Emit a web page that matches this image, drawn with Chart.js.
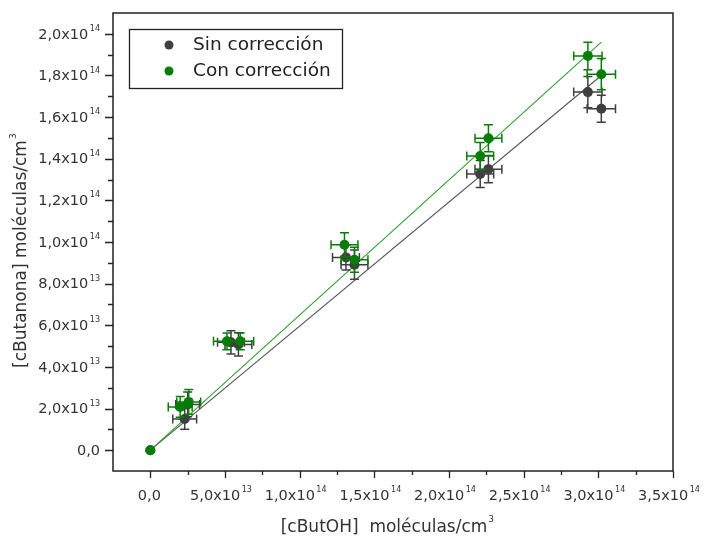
<!DOCTYPE html>
<html>
<head>
<meta charset="utf-8">
<script src="https://cdn.jsdelivr.net/npm/chart.js@4.4.1/dist/chart.umd.min.js"></script>
<style>
  html, body { margin: 0; padding: 0; background: #ffffff; }
  canvas { display: block; }
</style>
</head>
<body>
<canvas id="chart" width="706" height="539"></canvas>
<script>
// Axis ticks (molecules/cm3)
const xTicks = [0, 5e13, 1e14, 1.5e14, 2e14, 2.5e14, 3e14, 3.5e14];
const xMinorTicks = [2.5e13, 7.5e13, 1.25e14, 1.75e14, 2.25e14, 2.75e14, 3.25e14];
const yTicks = [0, 2e13, 4e13, 6e13, 8e13, 1e14, 1.2e14, 1.4e14, 1.6e14, 1.8e14, 2e14];
const yMinorTicks = [1e13, 3e13, 5e13, 7e13, 9e13, 1.1e14, 1.3e14, 1.5e14, 1.7e14, 1.9e14];

// Series: "Sin corrección"
const sinX    = [0, 2.3e13, 2.5e13, 5.4e13, 5.9e13, 1.31e14, 1.367e14, 2.209e14, 2.264e14, 2.93e14, 3.02e14];
const sinY    = [0, 1.5e13, 2.2e13, 5.18e13, 5.08e13, 9.26e13, 8.91e13, 1.327e14, 1.35e14, 1.72e14, 1.64e14];
const sinXErr = [0, 0.8e13, 0.8e13, 0.9e13, 0.9e13, 0.9e13, 0.9e13, 0.9e13, 0.9e13, 0.95e13, 0.95e13];
const sinYErr = [0, 0.5e13, 0.6e13, 0.56e13, 0.56e13, 0.6e13, 0.7e13, 0.65e13, 0.65e13, 0.75e13, 0.65e13];

// Series: "Con corrección"
const conX    = [0, 2.0e13, 2.57e13, 5.13e13, 6.02e13, 1.30e14, 1.367e14, 2.209e14, 2.264e14, 2.93e14, 3.02e14];
const conY    = [0, 2.08e13, 2.32e13, 5.23e13, 5.23e13, 9.87e13, 9.15e13, 1.413e14, 1.498e14, 1.894e14, 1.806e14];
const conXErr = [0, 0.8e13, 0.8e13, 0.9e13, 0.9e13, 0.9e13, 0.9e13, 0.9e13, 0.9e13, 0.95e13, 0.95e13];
const conYErr = [0, 0.5e13, 0.6e13, 0.4e13, 0.4e13, 0.58e13, 0.6e13, 0.65e13, 0.65e13, 0.66e13, 0.75e13];

// Linear fits (end points)
const sinFitX = [0, 3.02e14];
const sinFitY = [0, 1.80e14];
const conFitX = [0, 3.02e14];
const conFitY = [0, 1.96e14];

const GRAY = '#3f3f3f';
const GREEN = '#067d06';
const FONT = '"DejaVu Sans", sans-serif';

const toPoints = (xs, ys) => xs.map((x, i) => ({ x: x, y: ys[i] }));

function sciParts(v) {
  if (v === 0) return ['0,0', ''];
  const e = Math.floor(Math.log10(Math.abs(v)) + 1e-9);
  const m = v / Math.pow(10, e);
  return [m.toFixed(1).replace('.', ',') + 'x10', String(e)];
}

function drawSci(ctx, v, x, y, align) {
  const [main, sup] = sciParts(v);
  ctx.font = '14.5px ' + FONT;
  const wm = ctx.measureText(main).width;
  ctx.font = '8px ' + FONT;
  const ws = sup ? ctx.measureText(sup).width + 1.5 : 0;
  const total = wm + ws;
  const left = align === 'right' ? x - total : x - total / 2;
  ctx.textAlign = 'left';
  ctx.textBaseline = 'middle';
  ctx.font = '14.5px ' + FONT;
  ctx.fillText(main, left, y);
  if (sup) {
    ctx.font = '8px ' + FONT;
    ctx.fillText(sup, left + wm + 1.5, y - 6);
  }
}

// Error bars drawn just before each scatter series' points
const errorBars = {
  id: 'errorBars',
  beforeDatasetDraw(chart, args) {
    const ds = chart.data.datasets[args.index];
    if (!ds.xErr) return;
    const ctx = chart.ctx, xs = chart.scales.x, ys = chart.scales.y;
    const cap = 4.5;
    ctx.save();
    ctx.strokeStyle = ds.backgroundColor;
    ctx.lineWidth = 1.5;
    ds.data.forEach((p, i) => {
      const px = xs.getPixelForValue(p.x), py = ys.getPixelForValue(p.y);
      const ex = ds.xErr[i], ey = ds.yErr[i];
      ctx.beginPath();
      if (ex > 0) {
        const l = xs.getPixelForValue(p.x - ex), r = xs.getPixelForValue(p.x + ex);
        ctx.moveTo(l, py); ctx.lineTo(r, py);
        ctx.moveTo(l, py - cap); ctx.lineTo(l, py + cap);
        ctx.moveTo(r, py - cap); ctx.lineTo(r, py + cap);
      }
      if (ey > 0) {
        const t = ys.getPixelForValue(p.y + ey), b = ys.getPixelForValue(p.y - ey);
        ctx.moveTo(px, t); ctx.lineTo(px, b);
        ctx.moveTo(px - cap, t); ctx.lineTo(px + cap, t);
        ctx.moveTo(px - cap, b); ctx.lineTo(px + cap, b);
      }
      ctx.stroke();
    });
    ctx.restore();
  }
};

// Frame, ticks, tick labels, axis titles and legend
const frame = {
  id: 'frame',
  afterDraw(chart) {
    const ctx = chart.ctx, a = chart.chartArea, xs = chart.scales.x, ys = chart.scales.y;
    ctx.save();
    ctx.strokeStyle = '#222';
    ctx.lineWidth = 1.5;
    ctx.strokeRect(a.left, a.top, a.right - a.left, a.bottom - a.top);

    ctx.lineWidth = 1.3;
    ctx.beginPath();
    xTicks.forEach(v => { const p = Math.round(xs.getPixelForValue(v)) + 0.5; ctx.moveTo(p, a.bottom); ctx.lineTo(p, a.bottom + 7); });
    xMinorTicks.forEach(v => { const p = Math.round(xs.getPixelForValue(v)) + 0.5; ctx.moveTo(p, a.bottom); ctx.lineTo(p, a.bottom + 4); });
    yTicks.forEach(v => { const p = Math.round(ys.getPixelForValue(v)) + 0.5; ctx.moveTo(a.left, p); ctx.lineTo(a.left - 8, p); });
    yMinorTicks.forEach(v => { const p = Math.round(ys.getPixelForValue(v)) + 0.5; ctx.moveTo(a.left, p); ctx.lineTo(a.left - 5, p); });
    ctx.stroke();

    ctx.fillStyle = '#333';
    xTicks.forEach(v => drawSci(ctx, v, xs.getPixelForValue(v) - (v === 0 ? 1 : 4), a.bottom + 25, 'center'));
    yTicks.forEach(v => drawSci(ctx, v, 100, ys.getPixelForValue(v) + 1, 'right'));

    // Axis titles
    ctx.font = '17px ' + FONT;
    ctx.textBaseline = 'middle';
    ctx.textAlign = 'left';
    const xt = '[cButOH]  moléculas/cm';
    const wx = ctx.measureText(xt).width;
    let lx = 388 - (wx + 8) / 2;
    ctx.fillText(xt, lx, 528);
    ctx.font = '9px ' + FONT;
    ctx.fillText('3', lx + wx + 1, 520);

    ctx.save();
    ctx.translate(22, 250);
    ctx.rotate(-Math.PI / 2);
    ctx.font = '17px ' + FONT;
    const yt = '[cButanona] moléculas/cm';
    const wy = ctx.measureText(yt).width;
    const ly = -(wy + 8) / 2;
    ctx.fillText(yt, ly, 0);
    ctx.font = '9px ' + FONT;
    ctx.fillText('3', ly + wy + 1, -8);
    ctx.restore();

    // Legend
    ctx.fillStyle = '#fff';
    ctx.fillRect(130, 30, 212, 58);
    ctx.strokeStyle = '#222';
    ctx.lineWidth = 1.3;
    ctx.strokeRect(129.5, 29.5, 213, 59);
    const items = [['Sin corrección', GRAY, 45], ['Con corrección', GREEN, 71]];
    items.forEach(([t, c, y]) => {
      ctx.fillStyle = c;
      ctx.beginPath(); ctx.arc(169, y, 4.5, 0, Math.PI * 2); ctx.fill();
      ctx.fillStyle = '#222';
      ctx.font = '18.5px ' + FONT;
      ctx.textAlign = 'left';
      ctx.textBaseline = 'middle';
      ctx.fillText(t, 193, y);
    });
    ctx.restore();
  }
};

new Chart(document.getElementById('chart'), {
  data: {
    datasets: [
      { type: 'scatter', label: 'Con corrección', data: toPoints(conX, conY),
        xErr: conXErr, yErr: conYErr, backgroundColor: GREEN, borderWidth: 0,
        pointRadius: 5, order: 0 },
      { type: 'scatter', label: 'Sin corrección', data: toPoints(sinX, sinY),
        xErr: sinXErr, yErr: sinYErr, backgroundColor: GRAY, borderWidth: 0,
        pointRadius: 5, order: 1 },
      { type: 'line', label: 'Ajuste con corrección', data: toPoints(conFitX, conFitY),
        borderColor: '#2e9e2e', borderWidth: 1.1, pointRadius: 0, fill: false, order: 2 },
      { type: 'line', label: 'Ajuste sin corrección', data: toPoints(sinFitX, sinFitY),
        borderColor: '#555', borderWidth: 1.1, pointRadius: 0, fill: false, order: 3 }
    ]
  },
  options: {
    responsive: false,
    devicePixelRatio: 1,
    animation: false,
    layout: { padding: { left: 113, right: 33, top: 13, bottom: 68 } },
    scales: {
      x: { type: 'linear', min: -2.5e13, max: 3.5e14, display: false },
      y: { type: 'linear', min: -1e13, max: 2.1e14, display: false }
    },
    plugins: { legend: { display: false }, tooltip: { enabled: false } }
  },
  plugins: [errorBars, frame]
});
</script>
</body>
</html>
